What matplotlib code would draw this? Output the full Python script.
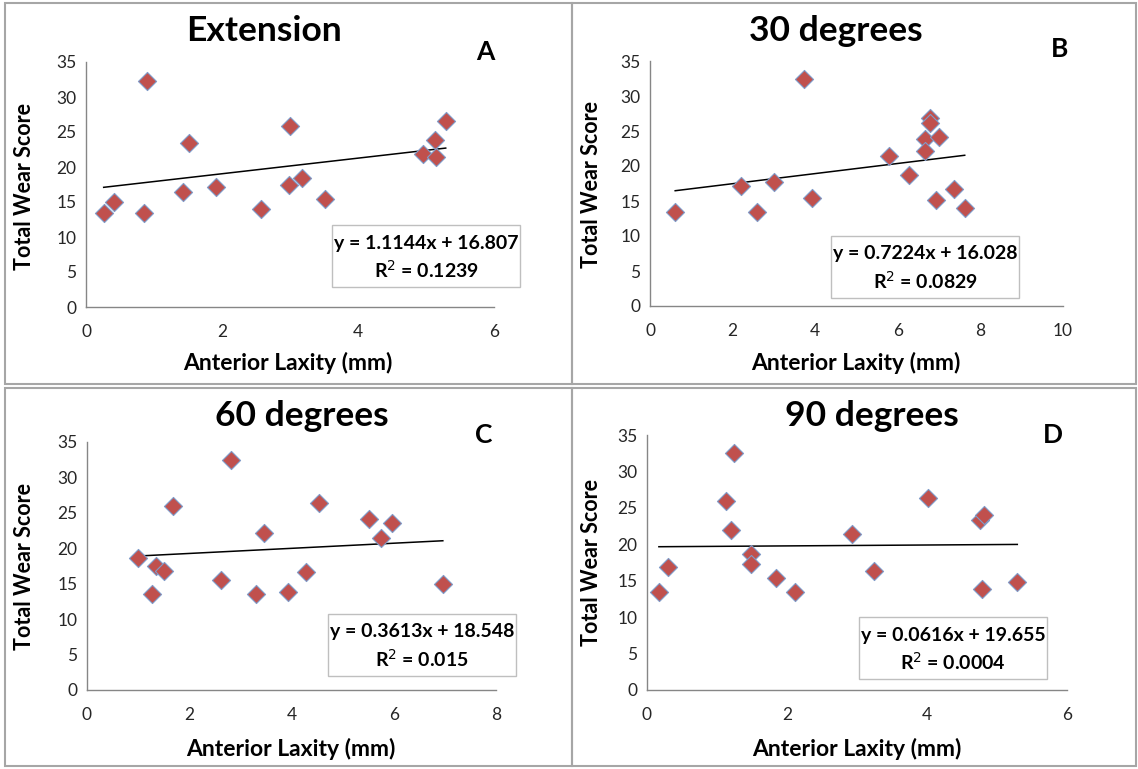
"""Four-panel scatter of total wear score vs anterior laxity with linear trendlines"""

import matplotlib
matplotlib.use('Agg')
import matplotlib.pyplot as plt
from matplotlib.patches import Rectangle

plt.rcParams['font.family'] = ['Lato', 'DejaVu Sans']

# data
titles = ['Extension', '30 degrees', '60 degrees', '90 degrees']
letters = ['A', 'B', 'C', 'D']
x_max = [6, 10, 8, 6]

laxity_ext = [0.26, 0.41, 0.89, 0.85, 1.42, 1.51, 1.91, 2.57, 3.00, 2.99, 3.17, 3.51, 4.95, 5.13, 5.14, 5.29]
wear_ext = [13.5, 15.0, 32.3, 13.5, 16.4, 23.5, 17.1, 14.0, 25.9, 17.4, 18.5, 15.4, 21.9, 23.9, 21.5, 26.6]

laxity_30 = [0.61, 2.20, 2.58, 3.01, 3.74, 3.92, 5.79, 6.28, 6.65, 6.65, 6.79, 6.79, 7.00, 6.92, 7.37, 7.62]
wear_30 = [13.4, 17.1, 13.4, 17.7, 32.4, 15.5, 21.5, 18.7, 23.8, 22.1, 26.8, 26.2, 24.2, 15.1, 16.7, 14.0]

laxity_60 = [1.00, 1.27, 1.34, 1.50, 1.68, 2.62, 2.82, 3.31, 3.46, 3.93, 4.28, 4.54, 5.51, 5.75, 5.96, 6.96]
wear_60 = [18.6, 13.5, 17.5, 16.8, 26.0, 15.5, 32.4, 13.5, 22.1, 13.9, 16.6, 26.4, 24.1, 21.5, 23.5, 14.9]

laxity_90 = [0.17, 0.30, 1.13, 1.20, 1.25, 1.48, 1.48, 1.85, 2.11, 2.93, 3.24, 4.02, 4.76, 4.82, 4.79, 5.29]
wear_90 = [13.5, 16.9, 25.9, 22.0, 32.5, 18.6, 17.3, 15.4, 13.5, 21.4, 16.4, 26.4, 23.3, 24.0, 13.9, 14.8]

slopes = [1.1144, 0.7224, 0.3613, 0.0616]
intercepts = [16.807, 16.028, 18.548, 19.655]
r_squared = ['0.1239', '0.0829', '0.015', '0.0004']

laxity = [laxity_ext, laxity_30, laxity_60, laxity_90]
wear = [wear_ext, wear_30, wear_60, wear_90]

W, H = 1138, 769
fig = plt.figure(figsize=(W / 100, H / 100), dpi=100)

def fx(px):
    return px / W

def fy(py):
    return 1 - py / H

# panel layout in pixels: axes (left, right, top, bottom), title, letter, box centre, labels
axes_px = [(86, 494, 62, 307), (650, 1063, 61, 306), (87, 496, 442, 690), (647, 1067, 435, 690)]
title_px = [(264, 31), (836, 31), (302, 416), (872, 416)]
letter_px = [(485, 52), (1060, 49), (484, 435), (1053, 435)]
box_px = [(426, 256), (925, 267), (422, 645), (953, 648)]
xlabel_px = [(288, 363), (856, 363), (291, 749), (857, 749)]
ylabel_px = [(25, 186), (592, 184), (25, 567), (591, 562)]
panels_px = [(5, 3, 572, 384), (572, 3, 1136, 384), (5, 388, 572, 766), (572, 388, 1136, 766)]

# panel frames
for x0, y0, x1, y1 in panels_px:
    fig.patches.append(Rectangle((fx(x0), fy(y1)), fx(x1 - x0), (y1 - y0) / H,
                                 transform=fig.transFigure, fill=False,
                                 edgecolor='#a6a6a6', linewidth=1.5))

for i in range(4):
    l, r, t, b = axes_px[i]
    ax = fig.add_axes([fx(l), fy(b), fx(r - l), (b - t) / H])
    ax.scatter(laxity[i], wear[i], marker='D', s=85, color='#c0504d',
               edgecolors='#7f9bc9', linewidths=0.8, zorder=3)
    xs = [min(laxity[i]), max(laxity[i])]
    ax.plot(xs, [slopes[i] * v + intercepts[i] for v in xs], color='black', linewidth=1.1, zorder=2)
    ax.set_xlim(0, x_max[i])
    ax.set_ylim(0, 35)
    ax.set_xticks(range(0, x_max[i] + 1, 2))
    ax.set_yticks(range(0, 36, 5))
    ax.tick_params(length=0, labelsize=12.5, colors='#262626', pad=7)
    ax.tick_params(axis='x', pad=12)
    for side in ['top', 'right']:
        ax.spines[side].set_visible(False)
    for side in ['left', 'bottom']:
        ax.spines[side].set_color('#868686')
        ax.spines[side].set_linewidth(1)
    ax.patch.set_alpha(0)

    fig.text(fx(title_px[i][0]), fy(title_px[i][1]), titles[i], ha='center', va='center',
             fontsize=25.5, fontweight='bold')
    fig.text(fx(letter_px[i][0]), fy(letter_px[i][1]), letters[i], ha='center', va='center',
             fontsize=19, fontweight='bold')
    fig.text(fx(xlabel_px[i][0]), fy(xlabel_px[i][1]), 'Anterior Laxity (mm)', ha='center',
             va='center', fontsize=16.5, fontweight='bold')
    fig.text(fx(ylabel_px[i][0]), fy(ylabel_px[i][1]), 'Total Wear Score', ha='center',
             va='center', fontsize=15.5, fontweight='bold', rotation=90)

    # trendline equation box
    cx, cy = box_px[i]
    bw, bh = 188, 62
    fig.patches.append(Rectangle((fx(cx - bw / 2), fy(cy + bh / 2)), fx(bw), bh / H,
                                 transform=fig.transFigure, facecolor='white',
                                 edgecolor='#bfbfbf', linewidth=1, zorder=5))
    eq = 'y = %.4fx + %.3f' % (slopes[i], intercepts[i])
    fig.text(fx(cx), fy(cy - 13), eq, ha='center', va='center', fontsize=14,
             fontweight='bold', zorder=6)
    fig.text(fx(cx), fy(cy + 14), 'R$^2$ = ' + r_squared[i], ha='center', va='center',
             fontsize=14, fontweight='bold', zorder=6)

fig.savefig('out.png', dpi=100)
